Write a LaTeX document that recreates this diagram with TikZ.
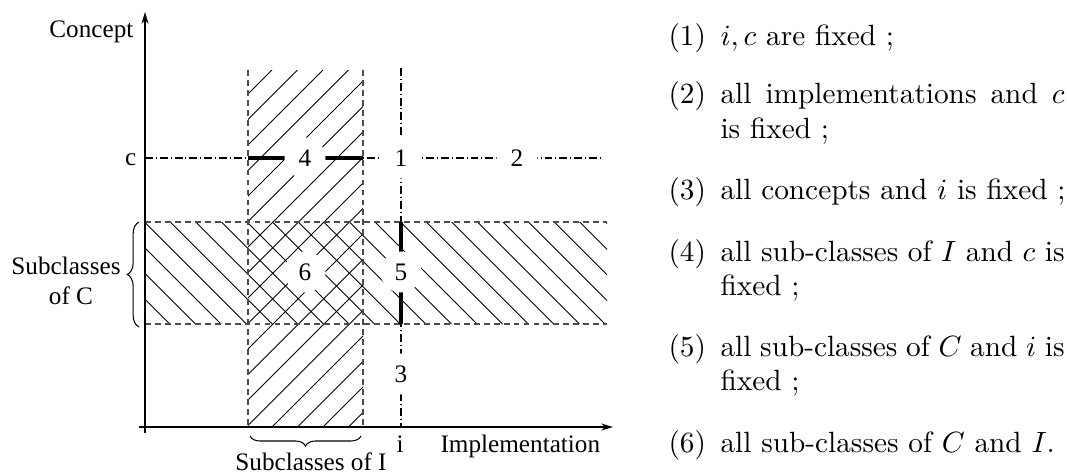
\documentclass[tikz,border=0pt]{standalone}
\usepackage{fontspec}
\newfontfamily\tms{Liberation Serif}
\usetikzlibrary{arrows.meta,decorations.pathreplacing}
\begin{document}
\begin{tikzpicture}[x=0.3413pt,y=-0.3413pt,
  lab/.style={font=\tms\fontsize{8.6}{10}\selectfont, inner sep=0pt},
  num/.style={lab, circle, fill=white, minimum size=14pt},
  hatch/.style={line width=0.3pt},
  border/.style={dash pattern=on 2pt off 1.4pt, line width=0.4pt, black!70},
  dashdot/.style={dash pattern=on 2.7pt off 1pt on 0.35pt off 1pt, line width=0.4pt},
  fixedline/.style={line width=1.1pt},
  axis/.style={line width=0.45pt, -{Stealth[length=4pt,width=2.4pt]}},
  bracestyle/.style={decorate, line width=0.35pt},
  item/.style={font=\fontsize{10}{12}\selectfont, inner sep=0pt, anchor=base west},
]
\useasboundingbox (0,0) rectangle (1067,473);

% named points
\coordinate (yb) at (145,433);
\coordinate (yt) at (145,12);
\coordinate (xl) at (139,427);
\coordinate (xr) at (613,427);
\coordinate (vlt) at (248,70);
\coordinate (vlb) at (248,427);
\coordinate (vrt) at (363,70);
\coordinate (vrb) at (363,427);
\coordinate (htl) at (145,222);
\coordinate (htr) at (607,222);
\coordinate (hbl) at (145,324);
\coordinate (hbr) at (607,324);
\coordinate (cl) at (145,158);
\coordinate (cr) at (600,158);
\coordinate (it) at (401,68);
\coordinate (ib) at (401,427);
\coordinate (c4l) at (248,158);
\coordinate (c4r) at (363,158);
\coordinate (i5t) at (401,222);
\coordinate (i5b) at (401,324);
\coordinate (bcb) at (139,327);
\coordinate (bct) at (139,222);
\coordinate (bir) at (361,436);
\coordinate (bil) at (250,436);

% hatching of the vertical strip
\begin{scope}
  \clip (vlt) rectangle (vrb);
  \foreach \n in {-1,...,19} {
    \pgfmathsetmacro\k{342+25.5*\n}
    \draw[hatch] (\k-427,427) -- (\k-70,70);
  }
\end{scope}
% hatching of the horizontal strip
\begin{scope}
  \clip (htl) rectangle (hbr);
  \foreach \n in {-13,...,10} {
    \pgfmathsetmacro\k{153+25.6*\n}
    \draw[hatch] (\k+222,222) -- (\k+324,324);
  }
\end{scope}

% dashed borders
\draw[border] (vlt) -- (vlb);
\draw[border] (vrt) -- (vrb);
\draw[border] (htl) -- (htr);
\draw[border] (hbl) -- (hbr);

% dash-dot lines c and i
\draw[dashdot] (cl) -- (cr);
\draw[dashdot] (it) -- (ib);
\draw[fixedline] (c4l) -- (c4r);
\draw[fixedline] (i5t) -- (i5b);

% axes
\draw[axis] (yb) -- (yt);
\draw[axis] (xl) -- (xr);

% region numbers
\node[num] (n4) at (305,158) {4};
\node[num] (n1) at (401,158) {1};
\node[num] (n2) at (517,158) {2};
\node[num] (n6) at (305,272) {6};
\node[num] (n5) at (401,272) {5};
\node[num] (n3) at (401,374) {3};

% axis labels
\node[lab, anchor=base east] (concept) at (134,37) {Concept};
\node[lab, anchor=base east] (clab) at (137,165) {c};
\node[lab, anchor=base] (ilab) at (400,452) {i};
\node[lab, anchor=base west] (impl) at (440,452) {Implementation};

% braces
\draw[bracestyle, decoration={brace, amplitude=4pt}] (bcb) -- (bct);
\draw[bracestyle, decoration={brace, amplitude=3.4pt}] (bir) -- (bil);
\node[lab, anchor=base] (subc1) at (66,274) {Subclasses};
\node[lab, anchor=base] (subc2) at (71,304) {of C};
\node[lab, anchor=base] (subi) at (311,470) {Subclasses of I};

% list
\node[item] (l1) at (668,45) {(1)};
\node[item] (t1) at (720,45) {$i, c$ are fixed ;};
\node[item] (l2) at (668,103) {(2)};
\node[item] (t2) at (720,103) {\makebox[117.4pt][s]{all implementations and $c$}};
\node[item] (t2b) at (720,138) {is fixed ;};
\node[item] (l3) at (668,199) {(3)};
\node[item] (t3) at (720,199) {all concepts and $i$ is fixed ;};
\node[item] (l4) at (668,261) {(4)};
\node[item] (t4) at (720,261) {\makebox[117.4pt][s]{all sub-classes of $I$ and $c$ is}};
\node[item] (t4b) at (720,295) {fixed ;};
\node[item] (l5) at (668,356) {(5)};
\node[item] (t5) at (720,356) {\makebox[117.4pt][s]{all sub-classes of $C$ and $i$ is}};
\node[item] (t5b) at (720,390) {fixed ;};
\node[item] (l6) at (668,452) {(6)};
\node[item] (t6) at (720,452) {all sub-classes of $C$ and $I$.};
\end{tikzpicture}
\end{document}
